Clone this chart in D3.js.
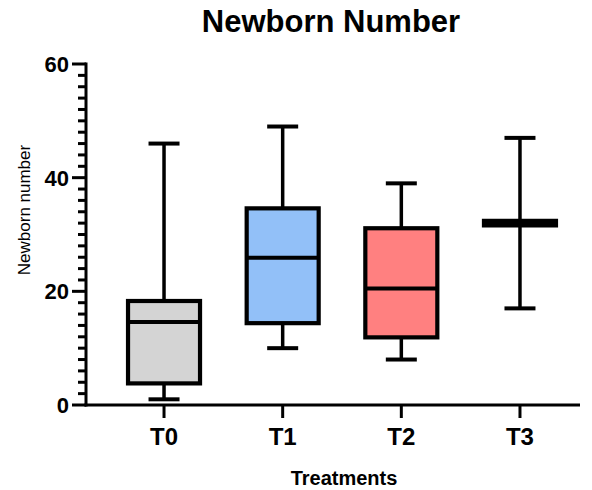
<!DOCTYPE html>
<html>
<head>
<meta charset="utf-8">
<script src="https://cdn.jsdelivr.net/npm/d3@7"></script>
<style>
  html, body { margin: 0; padding: 0; background: #fff; }
  svg { display: block; font-family: "Liberation Sans", Arial, sans-serif; }
</style>
</head>
<body>
<svg id="chart" width="592" height="490"></svg>
<script>
// Box-plot summary per treatment group
const categories = ["T0", "T1", "T2", "T3"];
const mins    = [1, 10, 8, 17];
const q1s     = [3.8, 14.4, 11.9, 31.6];
const medians = [14.6, 25.9, 20.5, 32];
const q3s     = [18.3, 34.6, 31.1, 32.4];
const maxs    = [46, 49, 39, 47];
const fills   = ["#d4d4d4", "#92c0f8", "#ff8080", "#ffffff"];
const yTicks  = [0, 20, 40, 60];

const svg = d3.select("#chart");
const axisX0 = 86, axisX1 = 580;

const y = d3.scaleLinear().domain([0, 60]).range([405, 64]);
const x = d3.scaleBand().domain(categories).range([104.7, 579.3]).padding(0);
const cx = c => x(c) + x.bandwidth() / 2;

const boxW = 72, capW = 31;

// Title
svg.append("text")
  .attr("x", 331).attr("y", 32)
  .attr("text-anchor", "middle")
  .attr("font-size", 31).attr("font-weight", "bold")
  .text("Newborn Number");

// Y axis: major ticks every 20, minor every 2
const yAxis = svg.append("g").attr("transform", `translate(${axisX0},0)`);
const minor = d3.range(0, 61, 2).filter(v => v % 20 !== 0);
yAxis.selectAll("line.minor").data(minor).join("line")
  .attr("x1", -8).attr("x2", 0)
  .attr("y1", d => y(d)).attr("y2", d => y(d))
  .attr("stroke", "#000").attr("stroke-width", 3);
yAxis.selectAll("line.major").data(yTicks).join("line")
  .attr("x1", -14).attr("x2", 0)
  .attr("y1", d => y(d)).attr("y2", d => y(d))
  .attr("stroke", "#000").attr("stroke-width", 3);
yAxis.append("line")
  .attr("x1", 0).attr("x2", 0)
  .attr("y1", y(60) - 1.5).attr("y2", y(0) + 1.5)
  .attr("stroke", "#000").attr("stroke-width", 3);
yAxis.selectAll("text.tick").data(yTicks).join("text")
  .attr("x", -17).attr("y", d => y(d))
  .attr("dy", "0.36em")
  .attr("text-anchor", "end")
  .attr("font-size", 22).attr("font-weight", "bold")
  .text(d => d);

// X axis
const xAxis = svg.append("g").attr("transform", `translate(0,${y(0)})`);
xAxis.append("line")
  .attr("x1", axisX0 - 1.5).attr("x2", axisX1)
  .attr("stroke", "#000").attr("stroke-width", 3);
xAxis.selectAll("line.tick").data(categories).join("line")
  .attr("x1", d => cx(d)).attr("x2", d => cx(d))
  .attr("y1", 0).attr("y2", 13)
  .attr("stroke", "#000").attr("stroke-width", 3);
xAxis.selectAll("text.tick").data(categories).join("text")
  .attr("x", d => cx(d)).attr("y", 40)
  .attr("text-anchor", "middle")
  .attr("font-size", 24).attr("font-weight", "bold")
  .text(d => d);

// Axis titles
svg.append("text")
  .attr("x", 344).attr("y", 485)
  .attr("text-anchor", "middle")
  .attr("font-size", 20).attr("font-weight", "bold")
  .text("Treatments");
svg.append("text")
  .attr("transform", "translate(30,210) rotate(-90)")
  .attr("text-anchor", "middle")
  .attr("font-size", 17)
  .text("Newborn number");

// Boxes and whiskers
const groups = svg.append("g").selectAll("g").data(categories).join("g");
groups.append("line")
  .attr("x1", cx).attr("x2", cx)
  .attr("y1", (d, i) => y(mins[i])).attr("y2", (d, i) => y(maxs[i]))
  .attr("stroke", "#000").attr("stroke-width", 3.5);
groups.append("line")
  .attr("x1", d => cx(d) - capW / 2).attr("x2", d => cx(d) + capW / 2)
  .attr("y1", (d, i) => y(maxs[i])).attr("y2", (d, i) => y(maxs[i]))
  .attr("stroke", "#000").attr("stroke-width", 4);
groups.append("line")
  .attr("x1", d => cx(d) - capW / 2).attr("x2", d => cx(d) + capW / 2)
  .attr("y1", (d, i) => y(mins[i])).attr("y2", (d, i) => y(mins[i]))
  .attr("stroke", "#000").attr("stroke-width", 4);
groups.append("rect")
  .attr("x", d => cx(d) - boxW / 2).attr("width", boxW)
  .attr("y", (d, i) => y(q3s[i]))
  .attr("height", (d, i) => y(q1s[i]) - y(q3s[i]))
  .attr("fill", (d, i) => fills[i])
  .attr("stroke", "#000").attr("stroke-width", 4.2);
groups.append("line")
  .attr("x1", d => cx(d) - boxW / 2).attr("x2", d => cx(d) + boxW / 2)
  .attr("y1", (d, i) => y(medians[i])).attr("y2", (d, i) => y(medians[i]))
  .attr("stroke", "#000").attr("stroke-width", 4);
</script>
</body>
</html>
